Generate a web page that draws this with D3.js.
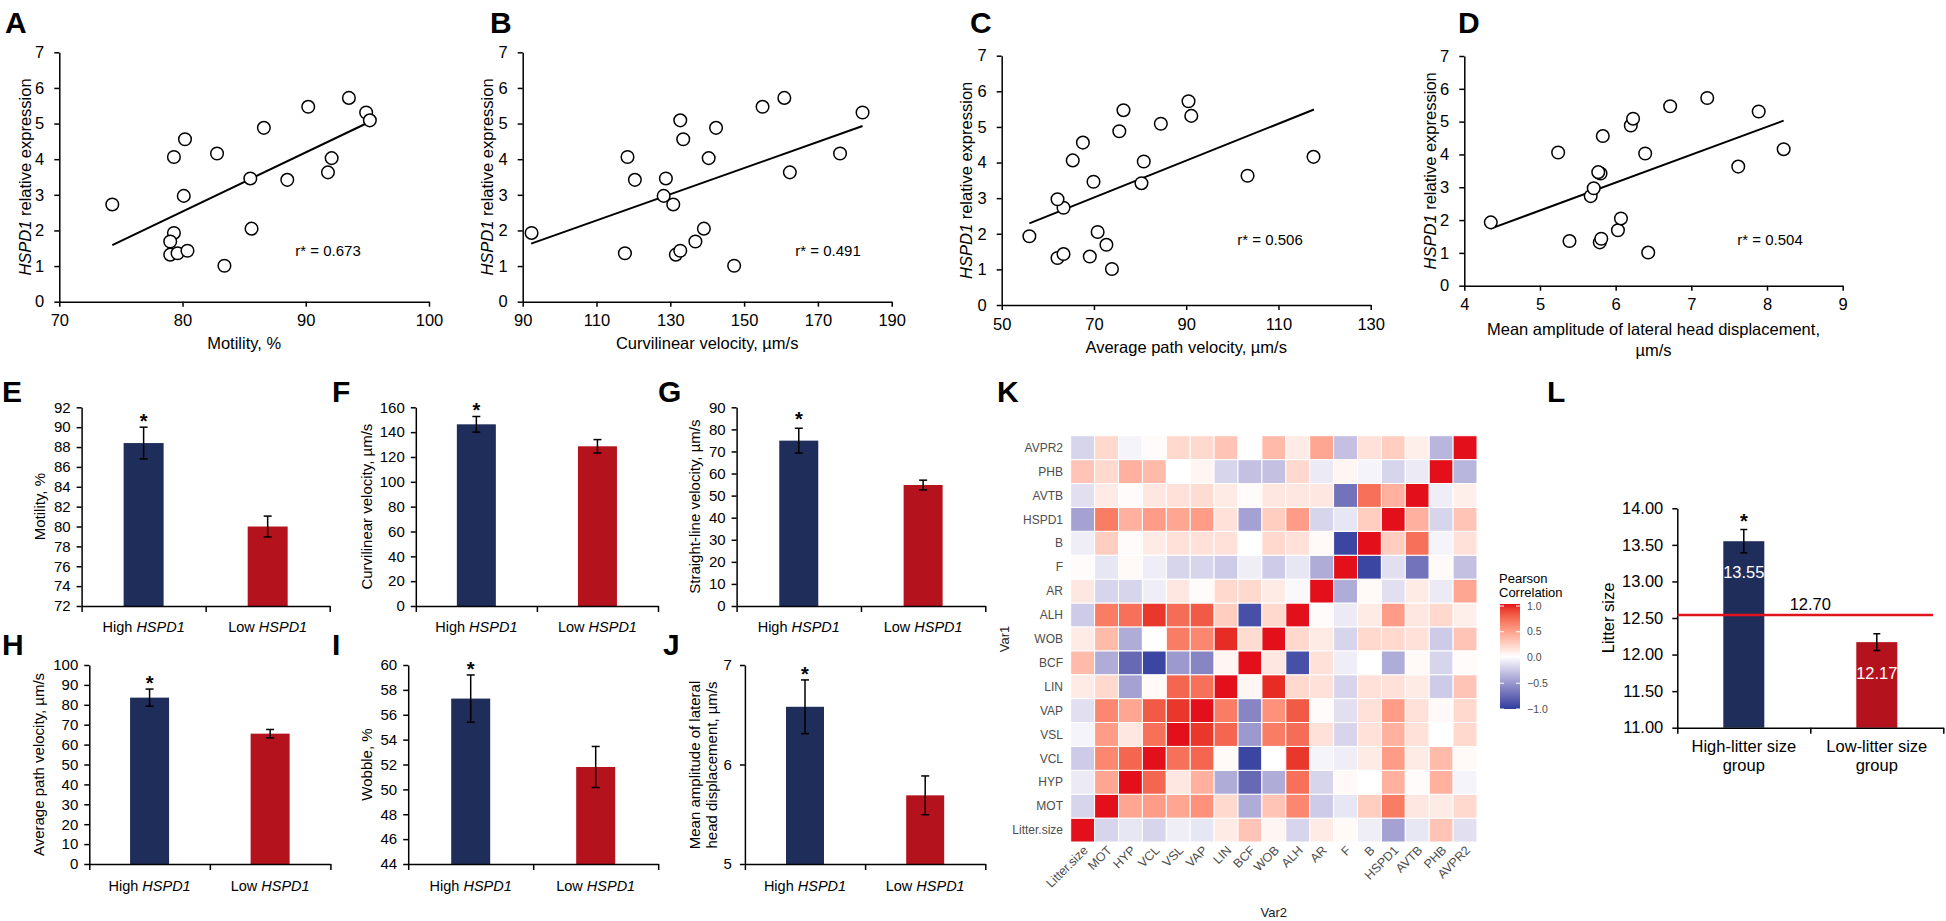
<!DOCTYPE html>
<html><head><meta charset="utf-8">
<script src="https://cdn.jsdelivr.net/npm/d3@7"></script>
<style>
body{margin:0;background:#fff}
svg text{font-family:"Liberation Sans",Arial,sans-serif}
</style>
</head><body>
<svg id="c" width="1946" height="921"></svg>
<script>
// ---------------- DATA ----------------
// HSPD1 relative expression of 21 samples (same order in every scatter panel)
const hspd1 = [2.73,4.06,4.56,4.16,4.88,5.47,5.72,5.31,5.09,4.03,3.63,3.42,3.46,2.97,1.93,1.69,1.32,1.36,1.43,2.05,1.01];
const motility = [74.3,79.3,80.2,82.8,86.6,90.2,93.5,94.9,95.2,92.1,91.8,88.5,85.5,80.1,79.3,79.0,79.0,79.6,80.4,85.6,83.4];
const curvilinearVel = [130.8,118.4,133.5,176.0,142.4,155.0,160.9,182.1,132.7,140.4,162.4,120.4,128.8,128.2,92.4,136.8,131.5,117.7,132.7,139.1,147.3];
const avgPathVel = [63.4,65.4,67.6,117.6,75.5,76.4,90.5,91.1,84.5,80.8,103.3,80.3,69.9,62.1,56.0,72.7,62.1,69.1,63.4,70.8,73.9];
const lateralHead = [5.67,5.24,5.83,8.22,6.20,6.72,7.21,7.89,6.23,6.39,7.62,5.80,5.77,5.71,4.35,6.03,5.79,5.39,5.81,6.07,6.43];
const trendA = [[74.3,1.59],[95.2,5.05]];
const trendB = [[92.3,1.63],[182.1,4.93]];
const trendC = [[56.0,2.29],[117.7,5.49]];
const trendD = [[4.35,1.74],[8.22,5.03]];
const rLabels = ["r* = 0.673","r* = 0.491","r* = 0.506","r* = 0.504"];
const scatterYTicks = [0,1,2,3,4,5,6,7];
const ticksA = [70,80,90,100], ticksB = [90,110,130,150,170,190], ticksC = [50,70,90,110,130], ticksD = [4,5,6,7,8,9];

const hspdGroups = ["High HSPD1","Low HSPD1"];
const motMeans = [88.4,80.0], motErr = [1.6,1.05];
const vclMeans = [146.3,128.6], vclErr = [6.3,5.4];
const vslMeans = [74.9,54.8], vslErr = [5.6,2.2];
const vapMeans = [83.6,65.5], vapErr = [4.3,2.1];
const wobMeans = [57.3,51.8], wobErr = [1.9,1.65];
const alhMeans = [6.58,5.69], alhErr = [0.27,0.195];
const ticksE = [72,74,76,78,80,82,84,86,88,90,92];
const ticksF = [0,20,40,60,80,100,120,140,160];
const ticksG = [0,10,20,30,40,50,60,70,80,90];
const ticksH = [0,10,20,30,40,50,60,70,80,90,100];
const ticksI = [44,46,48,50,52,54,56,58,60];
const ticksJ = [5,6,7];

const litterGroups = [["High-litter size","group"],["Low-litter size","group"]];
const litterMeans = [13.55,12.17], litterErr = [0.16,0.115];
const litterRefLine = 12.54, litterRefLabel = "12.70";
const ticksL = [11,11.5,12,12.5,13,13.5,14];

const corrVars = ["Litter.size","MOT","HYP","VCL","VSL","VAP","LIN","BCF","WOB","ALH","AR","F","B","HSPD1","AVTB","PHB","AVPR2"];
// corr[row][col]; rows = Var1 (Litter.size bottom), cols = Var2
const corr = [
 [1,-0.2,-0.12,-0.2,-0.08,-0.12,0.1,0.3,0.05,-0.2,0.1,0.03,-0.08,-0.45,-0.12,0.3,-0.15],
 [-0.2,1,0.45,0.5,0.45,0.55,0.2,-0.4,0.3,0.6,-0.25,-0.12,0.25,0.65,0.12,0.1,0.2],
 [-0.1,0.45,1,0.75,0.12,0.4,-0.4,-0.75,-0.4,0.7,-0.2,0.03,0.0,0.4,0.02,0.4,-0.05],
 [-0.25,0.6,0.75,1,0.7,0.75,0.03,-0.95,0.0,0.92,-0.05,-0.08,0.1,0.5,0.1,0.35,0.03],
 [-0.05,0.5,0.12,0.7,1,0.92,0.75,-0.5,0.65,0.72,0.15,-0.2,0.15,0.4,0.15,0.0,0.2],
 [-0.15,0.6,0.45,0.8,0.92,1,0.65,-0.6,0.55,0.8,0.02,-0.15,0.15,0.5,0.15,0.03,0.2],
 [0.1,0.2,-0.45,0.03,0.75,0.7,1,0.05,0.95,0.2,0.15,-0.2,0.15,0.15,0.1,-0.25,0.3],
 [0.35,-0.4,-0.75,-0.95,-0.5,-0.6,0.05,1,0.12,-0.9,0.15,-0.08,0.0,-0.4,0.03,-0.2,0.02],
 [0.1,0.35,-0.4,0.0,0.65,0.6,0.95,0.18,1,0.2,0.1,-0.2,0.2,0.2,0.15,-0.25,0.3],
 [-0.25,0.65,0.7,0.92,0.72,0.8,0.25,-0.9,0.2,1,0.02,-0.1,0.1,0.5,0.12,0.2,0.08],
 [0.12,-0.2,-0.2,-0.08,0.12,0.02,0.2,0.2,0.1,-0.03,1,-0.4,0.03,-0.15,0.1,-0.1,0.45],
 [0.02,-0.12,0.03,-0.08,-0.2,-0.2,-0.25,-0.08,-0.25,-0.12,-0.4,1,-0.95,-0.15,-0.7,0.03,-0.3],
 [-0.08,0.25,0.02,0.1,0.15,0.15,0.15,0.0,0.2,0.15,0.03,-0.95,1,0.25,0.7,-0.05,0.15],
 [-0.45,0.65,0.4,0.5,0.45,0.5,0.15,-0.45,0.25,0.5,-0.2,-0.12,0.25,1,0.4,-0.2,0.3],
 [-0.15,0.1,0.02,0.12,0.15,0.18,0.1,0.02,0.12,0.12,0.12,-0.7,0.7,0.4,1,-0.08,0.08],
 [0.3,0.2,0.4,0.35,0.0,0.05,-0.2,-0.3,-0.3,0.2,-0.1,0.05,-0.05,-0.2,-0.1,1,-0.35],
 [-0.2,0.2,-0.05,0.02,0.2,0.2,0.3,0.0,0.35,0.1,0.45,-0.3,0.15,0.25,0.08,-0.35,1]
];
const legendTicks = [1,0.5,0,-0.5,-1];

// ---------------- DRAWING ----------------
const svg = d3.select("#c");
const FONT = '"Liberation Sans",Arial,sans-serif';
const NAVY = "#1f2d5a", RED = "#b4121c";

function styleAxis(sel, fs){
  sel.attr("font-family", FONT).attr("font-size", fs);
  sel.select(".domain").attr("stroke","#000").attr("stroke-width",1.5);
  sel.selectAll(".tick line").attr("stroke","#000").attr("stroke-width",1.5);
  sel.selectAll(".tick text").attr("fill","#000");
}
function letter(t,x,y){
  svg.append("text").attr("x",x).attr("y",y).attr("font-size",30).attr("font-weight","bold").text(t);
}
function rotLabel(lines, cx, cy, fs, lh, italicFirstWord){
  const t = svg.append("text").attr("transform",`translate(${cx},${cy}) rotate(-90)`)
    .attr("text-anchor","middle").attr("font-size",fs);
  const n = lines.length;
  lines.forEach((ln,i)=>{
    const dy = (i - (n-1)/2)*lh;
    const ts = t.append("tspan").attr("x",0).attr("y",dy).attr("dy","0.35em");
    if(italicFirstWord && i===0){
      const parts = ln.split(" ");
      ts.append("tspan").attr("font-style","italic").text(parts[0]);
      ts.append("tspan").text(" " + parts.slice(1).join(" "));
    } else ts.text(ln);
  });
}

function scatter(o){
  const x = d3.scaleLinear().domain([o.xTicks[0], o.xTicks[o.xTicks.length-1]]).range([o.left,o.right]);
  const y = d3.scaleLinear().domain([0,7]).range([o.bottom,o.top]);
  svg.append("g").attr("transform",`translate(0,${o.bottom})`)
    .call(d3.axisBottom(x).tickValues(o.xTicks).tickFormat(d3.format("d")).tickSize(5).tickSizeOuter(0).tickPadding(8))
    .call(styleAxis,16.5);
  svg.append("g").attr("transform",`translate(${o.left},0)`)
    .call(d3.axisLeft(y).tickValues(scatterYTicks).tickFormat(d3.format("d")).tickSize(5).tickSizeOuter(0).tickPadding(10))
    .call(styleAxis,16.5);
  svg.append("line")
    .attr("x1",x(o.trend[0][0])).attr("y1",y(o.trend[0][1]))
    .attr("x2",x(o.trend[1][0])).attr("y2",y(o.trend[1][1]))
    .attr("stroke","#000").attr("stroke-width",2);
  svg.append("g").selectAll("circle").data(o.xs).join("circle")
    .attr("cx",d=>x(d)).attr("cy",(d,i)=>y(hspd1[i])).attr("r",6.3)
    .attr("fill","#fff").attr("stroke","#000").attr("stroke-width",1.5);
  svg.append("text").attr("x",o.rx).attr("y",o.ry).attr("text-anchor","middle")
    .attr("font-family","Lato,'Open Sans',sans-serif").attr("font-size",15).text(o.r);
  rotLabel(["HSPD1 relative expression"], o.ylx, (o.top+o.bottom)/2, 16.5, 18, true);
  o.xTitle.forEach((ln,i)=>{
    svg.append("text").attr("x",(o.left+o.right)/2).attr("y",o.xTitleY + i*21)
      .attr("text-anchor","middle").attr("font-size",16.5).text(ln);
  });
}

scatter({left:59.3,right:429,top:52.3,bottom:301.7,xTicks:ticksA,xs:motility,trend:trendA,r:rLabels[0],rx:328,ry:256,ylx:25,xTitle:["Motility,  %"],xTitleY:349});
scatter({left:522.7,right:891.7,top:52.3,bottom:301.7,xTicks:ticksB,xs:curvilinearVel,trend:trendB,r:rLabels[1],rx:828,ry:256,ylx:487,xTitle:["Curvilinear  velocity, \u00b5m/s"],xTitleY:349});
scatter({left:1001.7,right:1370.7,top:55.7,bottom:305,xTicks:ticksC,xs:avgPathVel,trend:trendC,r:rLabels[2],rx:1270,ry:245,ylx:966,xTitle:["Average path velocity, \u00b5m/s"],xTitleY:353});
scatter({left:1464.3,right:1842.7,top:56,bottom:285.7,xTicks:ticksD,xs:lateralHead,trend:trendD,r:rLabels[3],rx:1770,ry:245,ylx:1430,xTitle:["Mean amplitude  of lateral head displacement,","\u00b5m/s"],xTitleY:335});

letter("A",5,33); letter("B",490,33); letter("C",970,33); letter("D",1458,33);

function bars(o){
  const groups = o.groups;
  const W = o.right - o.left, step = W/groups.length, p = 1 - o.bw/step;
  const x = d3.scaleBand().domain(groups.map((g,i)=>i)).range([o.left,o.right]).paddingInner(p).paddingOuter(p/2);
  const y = d3.scaleLinear().domain([o.ticks[0], o.ticks[o.ticks.length-1]]).range([o.bottom,o.top]);
  const xl = d3.scaleLinear().domain([0,groups.length]).range([o.left,o.right]);
  svg.append("g").attr("transform",`translate(${o.left},0)`)
    .call(d3.axisLeft(y).tickValues(o.ticks).tickSize(5).tickSizeOuter(0).tickPadding(o.tickPad||6).tickFormat(o.fmt||d3.format("d")))
    .call(styleAxis,o.fs||15);
  svg.append("g").selectAll("rect").data(o.means).join("rect")
    .attr("x",(d,i)=>x(i)).attr("width",x.bandwidth())
    .attr("y",d=>y(d)).attr("height",d=>y(o.ticks[0])-y(d))
    .attr("fill",(d,i)=>i===0?NAVY:RED);
  svg.append("g").attr("transform",`translate(0,${o.bottom})`)
    .call(d3.axisBottom(xl).tickValues(d3.range(groups.length+1)).tickFormat("").tickSize(6).tickSizeOuter(0))
    .call(styleAxis,15);
  if(o.extra) o.extra(x,y);
  const eb = svg.append("g").attr("stroke","#000").attr("stroke-width",1.5);
  o.means.forEach((m,i)=>{
    const cx = x(i)+x.bandwidth()/2, e = o.errs[i];
    eb.append("line").attr("x1",cx).attr("x2",cx).attr("y1",y(m+e)).attr("y2",y(m-e));
    eb.append("line").attr("x1",cx-o.cap).attr("x2",cx+o.cap).attr("y1",y(m+e)).attr("y2",y(m+e));
    eb.append("line").attr("x1",cx-o.cap).attr("x2",cx+o.cap).attr("y1",y(m-e)).attr("y2",y(m-e));
  });
  const c0 = x(0)+x.bandwidth()/2;
  svg.append("text").attr("x",c0).attr("y",y(o.means[0]+o.errs[0]) + (o.starOff||1))
    .attr("text-anchor","middle").attr("font-size",20).attr("font-weight","bold").text("*");
  return {x,y};
}

function hspdLabels(x, yb){
  hspdGroups.forEach((g,i)=>{
    const parts = g.split(" ");
    const t = svg.append("text").attr("x",x(i)+x.bandwidth()/2).attr("y",yb)
      .attr("text-anchor","middle").attr("font-family","Lato,sans-serif").attr("font-size",14.5);
    t.append("tspan").text(parts[0]+" ");
    t.append("tspan").attr("font-style","italic").text(parts[1]);
  });
}

const rowA = {top:407.3,bottom:606,labelY:632};
const rowB = {top:665,bottom:864,labelY:891};
let r;
r = bars({groups:hspdGroups,means:motMeans,errs:motErr,ticks:ticksE,left:81.6,right:329.7,top:rowA.top,bottom:rowA.bottom,bw:40,cap:4});
hspdLabels(r.x,rowA.labelY);
rotLabel(["Motility, %"],39.5,(rowA.top+rowA.bottom)/2,15,17);
r = bars({groups:hspdGroups,means:vclMeans,errs:vclErr,ticks:ticksF,left:415.8,right:658,top:rowA.top,bottom:rowA.bottom,bw:39,cap:4});
hspdLabels(r.x,rowA.labelY);
rotLabel(["Curvilinear  velocity, \u00b5m/s"],366.7,(rowA.top+rowA.bottom)/2,15,17);
r = bars({groups:hspdGroups,means:vslMeans,errs:vslErr,ticks:ticksG,left:736.6,right:985.3,top:rowA.top,bottom:rowA.bottom,bw:39,cap:4,starOff:-2});
hspdLabels(r.x,rowA.labelY);
rotLabel(["Straight-line  velocity, \u00b5m/s"],695,(rowA.top+rowA.bottom)/2,15,17);

r = bars({groups:hspdGroups,means:vapMeans,errs:vapErr,ticks:ticksH,left:89.3,right:330.4,top:rowB.top,bottom:rowB.bottom,bw:39,cap:4});
hspdLabels(r.x,rowB.labelY);
rotLabel(["Average  path  velocity, \u00b5m/s"],38.3,(rowB.top+rowB.bottom)/2,15,17);
r = bars({groups:hspdGroups,means:wobMeans,errs:wobErr,ticks:ticksI,left:408.2,right:658.2,top:rowB.top,bottom:rowB.bottom,bw:39,cap:4});
hspdLabels(r.x,rowB.labelY);
rotLabel(["Wobble, %"],366.7,(rowB.top+rowB.bottom)/2,15,17);
r = bars({groups:hspdGroups,means:alhMeans,errs:alhErr,ticks:ticksJ,left:744.9,right:985.3,top:rowB.top,bottom:rowB.bottom,bw:38,cap:4,tickPad:8});
hspdLabels(r.x,rowB.labelY);
rotLabel(["Mean amplitude  of lateral","head displacement, \u00b5m/s"],703,765,15,16.5);

letter("E",2,402); letter("F",332,402); letter("G",658,402);
letter("H",2,655); letter("I",332,655); letter("J",663,655);

// ---------------- K heatmap ----------------
const hx = d3.scaleBand().domain(corrVars).range([1070.7,1477]);
const hy = d3.scaleBand().domain(corrVars).range([842,435.7]);
const col = d3.scaleLinear().domain([-1,0,1]).range(["#2c3e9c","#ffffff","#e3101b"]).interpolate(d3.interpolateLab);
const cells = [];
corr.forEach((row,i)=>row.forEach((v,j)=>cells.push({r:corrVars[i],c:corrVars[j],v})));
svg.append("g").selectAll("rect").data(cells).join("rect")
  .attr("x",d=>hx(d.c)).attr("y",d=>hy(d.r))
  .attr("width",hx.bandwidth()).attr("height",hy.bandwidth())
  .attr("fill",d=>col(d.v)).attr("stroke","#fff").attr("stroke-width",1);
svg.append("g").selectAll("text").data(corrVars).join("text")
  .attr("x",1063).attr("y",d=>hy(d)+hy.bandwidth()/2).attr("dy","0.35em")
  .attr("text-anchor","end").attr("font-size",12).attr("fill","#4d4d4d").text(d=>d);
svg.append("g").selectAll("text").data(corrVars).join("text")
  .attr("transform",d=>`translate(${hx(d)+hx.bandwidth()/2+6},${851}) rotate(-45)`)
  .attr("text-anchor","end").attr("font-size",12.5).attr("fill","#4d4d4d").text(d=>d);
svg.append("text").attr("x",(1070.7+1477)/2).attr("y",917).attr("text-anchor","middle").attr("font-size",13).attr("fill","#1a1a1a").text("Var2");
svg.append("text").attr("transform","translate(1009,639) rotate(-90)").attr("text-anchor","middle").attr("font-size",13).attr("fill","#1a1a1a").text("Var1");
// legend
svg.append("text").attr("x",1499).attr("y",583).attr("font-size",13).text("Pearson");
svg.append("text").attr("x",1499).attr("y",597).attr("font-size",13).text("Correlation");
const ly = d3.scaleLinear().domain([-1,1]).range([709,606]);
const grad = svg.append("defs").append("linearGradient").attr("id","lg").attr("x1",0).attr("y1",1).attr("x2",0).attr("y2",0);
d3.range(-1,1.001,0.1).forEach(v=>grad.append("stop").attr("offset",(v+1)/2).attr("stop-color",col(v)));
svg.append("rect").attr("x",1500).attr("y",604).attr("width",20).attr("height",105).attr("fill","url(#lg)");
legendTicks.forEach(v=>{
  svg.append("line").attr("x1",1500).attr("x2",1504).attr("y1",ly(v)).attr("y2",ly(v)).attr("stroke","#fff").attr("stroke-width",1);
  svg.append("line").attr("x1",1516).attr("x2",1520).attr("y1",ly(v)).attr("y2",ly(v)).attr("stroke","#fff").attr("stroke-width",1);
  svg.append("text").attr("x",1527).attr("y",ly(v)).attr("dy","0.35em").attr("font-size",10.5).attr("fill","#4d4d4d").text(d3.format(".1f")(v));
});
letter("K",997,402);

// ---------------- L ----------------
r = bars({groups:litterGroups,means:litterMeans,errs:litterErr,ticks:ticksL,left:1677.3,right:1943.3,top:508.3,bottom:727.7,bw:41,cap:3.5,fs:16.5,tickPad:9,fmt:d3.format(".2f"),starOff:-2,
  extra:(x,y)=>{
    svg.append("line").attr("x1",1677.3).attr("x2",1933).attr("y1",y(litterRefLine)).attr("y2",y(litterRefLine)).attr("stroke","#e0141c").attr("stroke-width",2.5);
    svg.append("text").attr("x",(1677.3+1943.3)/2).attr("y",y(litterRefLine)-5).attr("text-anchor","middle").attr("font-size",16.5).text(litterRefLabel);
    litterMeans.forEach((m,i)=>{
      svg.append("text").attr("x",x(i)+x.bandwidth()/2).attr("y",y(m)+37).attr("text-anchor","middle")
        .attr("font-size",16.5).attr("fill","#fff").text(d3.format(".2f")(m));
    });
  }});
litterGroups.forEach((g,i)=>{
  g.forEach((ln,k)=>svg.append("text").attr("x",r.x(i)+r.x.bandwidth()/2).attr("y",752+k*19).attr("text-anchor","middle").attr("font-size",16.5).text(ln));
});
rotLabel(["Litter size"],1608,618,16.5,18);
letter("L",1547,402);
</script>
</body></html>
